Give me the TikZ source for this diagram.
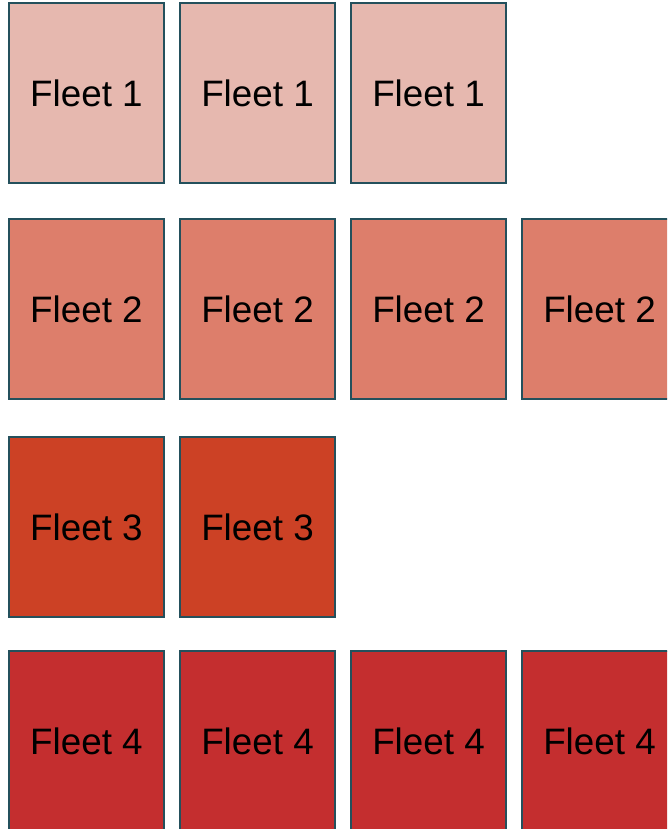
\documentclass[tikz,border=0pt]{standalone}
\usepackage{fontspec}
\setmainfont{Liberation Sans}
\definecolor{fone}{HTML}{E6B8AF}
\definecolor{ftwo}{HTML}{DD7E6B}
\definecolor{fthree}{HTML}{CC4125}
\definecolor{ffour}{HTML}{C42E2F}
\definecolor{edgec}{HTML}{24505C}
\begin{document}
\begin{tikzpicture}[x=1pt,y=-1pt,
  fleetbox/.style={draw=edgec, line width=1.4pt, rectangle, anchor=north west,
    minimum width=155pt, minimum height=180pt, inner sep=0pt, outer sep=0pt,
    font=\fontsize{36.8}{40}\selectfont, text=black}]
\useasboundingbox (0,0) rectangle (667,829);
\clip (0,0) rectangle (667,829);
\node[fleetbox, fill=fone] (a1) at (9,3) {\raisebox{-1.5pt}{Fleet 1}};
\node[fleetbox, fill=fone] (a2) at (180,3) {\raisebox{-1.5pt}{Fleet 1}};
\node[fleetbox, fill=fone] (a3) at (351,3) {\raisebox{-1.5pt}{Fleet 1}};
\node[fleetbox, fill=ftwo] (b1) at (9,219) {\raisebox{-1.5pt}{Fleet 2}};
\node[fleetbox, fill=ftwo] (b2) at (180,219) {\raisebox{-1.5pt}{Fleet 2}};
\node[fleetbox, fill=ftwo] (b3) at (351,219) {\raisebox{-1.5pt}{Fleet 2}};
\node[fleetbox, fill=ftwo] (b4) at (522,219) {\raisebox{-1.5pt}{Fleet 2}};
\node[fleetbox, fill=fthree] (c1) at (9,437) {\raisebox{-1.5pt}{Fleet 3}};
\node[fleetbox, fill=fthree] (c2) at (180,437) {\raisebox{-1.5pt}{Fleet 3}};
\node[fleetbox, fill=ffour] (d1) at (9,651) {\raisebox{-1.5pt}{Fleet 4}};
\node[fleetbox, fill=ffour] (d2) at (180,651) {\raisebox{-1.5pt}{Fleet 4}};
\node[fleetbox, fill=ffour] (d3) at (351,651) {\raisebox{-1.5pt}{Fleet 4}};
\node[fleetbox, fill=ffour] (d4) at (522,651) {\raisebox{-1.5pt}{Fleet 4}};
\end{tikzpicture}
\end{document}
